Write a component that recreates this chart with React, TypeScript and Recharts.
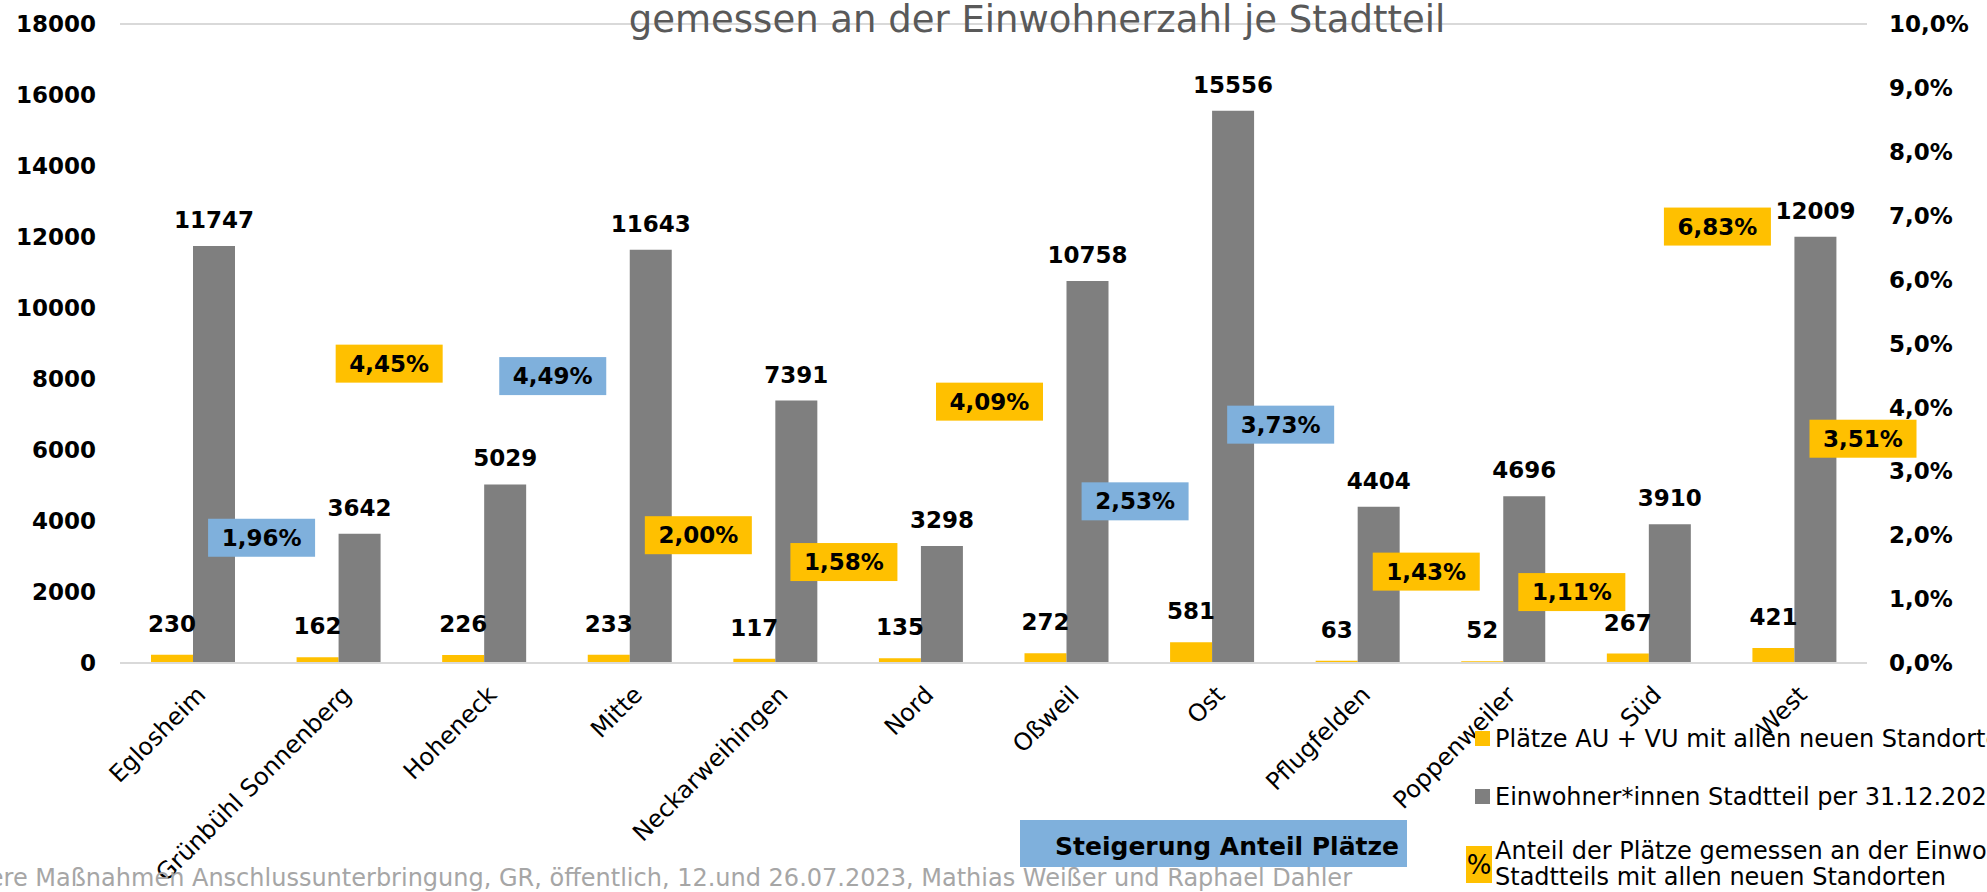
import { ComposedChart, Bar, Line, XAxis, YAxis, CartesianGrid, LabelList } from 'recharts';

const stadtteile = [
  'Eglosheim',
  'Grünbühl Sonnenberg',
  'Hoheneck',
  'Mitte',
  'Neckarweihingen',
  'Nord',
  'Oßweil',
  'Ost',
  'Pflugfelden',
  'Poppenweiler',
  'Süd',
  'West',
];
const plaetze = [230, 162, 226, 233, 117, 135, 272, 581, 63, 52, 267, 421];
const einwohner = [11747, 3642, 5029, 11643, 7391, 3298, 10758, 15556, 4404, 4696, 3910, 12009];
const anteil = [0.0196, 0.0445, 0.0449, 0.02, 0.0158, 0.0409, 0.0253, 0.0373, 0.0143, 0.0111, 0.0683, 0.0351];
// Stadtteile mit Steigerung des Anteils (blau hinterlegt)
const steigerung = [true, false, true, false, false, false, true, true, false, false, false, false];

const leftTicks = [0, 2000, 4000, 6000, 8000, 10000, 12000, 14000, 16000, 18000];
const rightTicks = [0, 0.01, 0.02, 0.03, 0.04, 0.05, 0.06, 0.07, 0.08, 0.09, 0.1];

const W = 1987;
const H = 892;
const PLOT_LEFT = 120;
const PLOT_RIGHT = 1867;
const BAND = (PLOT_RIGHT - PLOT_LEFT) / stadtteile.length;

const YELLOW = '#FFC000';
const GRAY = '#7F7F7F';
const BLUE = '#7FB0DC';
const FONT = '"DejaVu Sans", Verdana, sans-serif';

// manually moved label box in the original (Grünbühl Sonnenberg)
const boxNudge: Record<number, [number, number]> = { 1: [-18, -15] };

const data = stadtteile.map((name, i) => ({
  name,
  plaetze: plaetze[i],
  einwohner: einwohner[i],
  anteil: anteil[i],
}));

const pct2 = (v: number) => (v * 100).toFixed(2).replace('.', ',') + '%';
const pct1 = (v: number) => (v * 100).toFixed(1).replace('.', ',') + '%';

function CategoryTick({ x, y, payload }: any) {
  return (
    <g transform={`translate(${x + 2},${y + 13})`}>
      <text
        transform="rotate(-45)"
        textAnchor="end"
        dy="0.72em"
        fontSize={24}
        fontFamily={FONT}
        fill="#000"
      >
        {payload.value}
      </text>
    </g>
  );
}

function PctBox(props: any) {
  const { cx, cy, index } = props;
  if (cx == null || cy == null) return null;
  const [nx, ny] = boxNudge[index] || [0, 0];
  const x = cx + BAND / 2 - 4 + nx;
  const y = cy + ny;
  return (
    <g key={`pct-${index}`}>
      <rect x={x - 53.5} y={y - 19} width={107} height={38} fill={steigerung[index] ? BLUE : YELLOW} />
      <text
        x={x}
        y={y}
        textAnchor="middle"
        dominantBaseline="central"
        fontSize={23}
        fontWeight="bold"
        fontFamily={FONT}
        fill="#000"
      >
        {pct2(anteil[index])}
      </text>
    </g>
  );
}

const labelStyle = { fontSize: 23, fontWeight: 'bold', fontFamily: FONT, fill: '#000' };

export default function App() {
  return (
    <div style={{ position: 'absolute', left: 0, top: 0, width: W, height: H, overflow: 'hidden', background: '#fff' }}>
      <ComposedChart
        width={W}
        height={H}
        data={data}
        margin={{ top: 24, right: 0, bottom: 0, left: 0 }}
        barGap={0}
        barSize={42}
      >
        <CartesianGrid vertical={false} stroke="#D9D9D9" strokeWidth={2} />
        <XAxis
          dataKey="name"
          height={229}
          interval={0}
          tickLine={false}
          axisLine={{ stroke: '#D9D9D9', strokeWidth: 2 }}
          tick={<CategoryTick />}
        />
        <YAxis
          yAxisId="left"
          width={120}
          domain={[0, 18000]}
          ticks={leftTicks}
          interval={0}
          axisLine={false}
          tickLine={false}
          tickSize={0}
          tickMargin={24}
          tick={{ fontSize: 23, fontWeight: 'bold', fontFamily: FONT, fill: '#000' }}
        />
        <YAxis
          yAxisId="right"
          orientation="right"
          width={120}
          domain={[0, 0.1]}
          ticks={rightTicks}
          interval={0}
          axisLine={false}
          tickLine={false}
          tickSize={0}
          tickMargin={22}
          tickFormatter={pct1}
          tick={{ fontSize: 23, fontWeight: 'bold', fontFamily: FONT, fill: '#000', textAnchor: 'start' }}
        />
        <Bar yAxisId="left" dataKey="plaetze" name="Plätze AU + VU mit allen neuen Standorten" fill={YELLOW} isAnimationActive={false}>
          <LabelList dataKey="plaetze" position="top" offset={23} style={labelStyle} />
        </Bar>
        <Bar yAxisId="left" dataKey="einwohner" name="Einwohner*innen Stadtteil per 31.12.2022" fill={GRAY} isAnimationActive={false}>
          <LabelList dataKey="einwohner" position="top" offset={18} style={labelStyle} />
        </Bar>
        <Line
          yAxisId="right"
          dataKey="anteil"
          name="Anteil der Plätze gemessen an der Einwohnerzahl des Stadtteils mit allen neuen Standorten"
          stroke="none"
          dot={PctBox}
          activeDot={false}
          isAnimationActive={false}
        />
      </ComposedChart>

      <svg
        width={W}
        height={H}
        style={{ position: 'absolute', left: 0, top: 0, pointerEvents: 'none' }}
        fontFamily={FONT}
      >
        <text x={1037} y={32} textAnchor="middle" fontSize={37} fill="#595959">
          gemessen an der Einwohnerzahl je Stadtteil
        </text>

        <rect x={1475} y={731} width={15} height={15} fill={YELLOW} />
        <text x={1495} y={739} dominantBaseline="central" fontSize={24} fill="#000">
          Plätze AU + VU mit allen neuen Standorten
        </text>
        <rect x={1475} y={789} width={15} height={15} fill={GRAY} />
        <text x={1495} y={797} dominantBaseline="central" fontSize={24} fill="#000">
          Einwohner*innen Stadtteil per 31.12.2022
        </text>
        <rect x={1466} y={846} width={26} height={37} fill={YELLOW} />
        <text x={1479} y={865} textAnchor="middle" dominantBaseline="central" fontSize={26} fill="#000">
          %
        </text>
        <text x={1495} y={851} dominantBaseline="central" fontSize={24} fill="#000">
          Anteil der Plätze gemessen an der Einwohnerzahl des
        </text>
        <text x={1495} y={877} dominantBaseline="central" fontSize={24} fill="#000">
          Stadtteils mit allen neuen Standorten
        </text>

        <text x={1352} y={886} textAnchor="end" fontSize={24} fill="#A6A6A6">
          Weitere Maßnahmen Anschlussunterbringung, GR, öffentlich, 12.und 26.07.2023, Mathias Weißer und Raphael Dahler
        </text>
        <rect x={1020} y={820} width={387} height={47} fill={BLUE} />
        <text x={1399} y={855} textAnchor="end" fontSize={25} fontWeight="bold" fill="#000">
          Steigerung Anteil Plätze
        </text>
      </svg>
    </div>
  );
}
